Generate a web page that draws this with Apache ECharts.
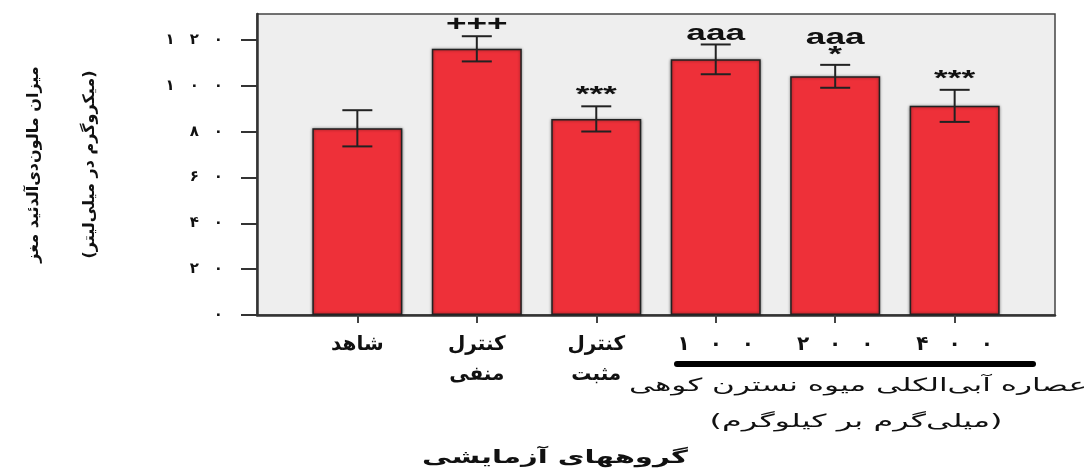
<!DOCTYPE html>
<html><head><meta charset="utf-8">
<script src="https://cdn.jsdelivr.net/npm/echarts@6/dist/echarts.min.js"></script>
<style>html,body{margin:0;padding:0;background:#fff}#c{width:1090px;height:471px}</style>
</head><body><div id="c"></div>
<script>
// ---- data ----
const categories = ['شاهد', 'کنترل\nمنفی', 'کنترل\nمثبت', '۱\u2003۰\u2003۰', '۲\u2003۰\u2003۰', '۴\u2003۰\u2003۰'];
const positions = [1, 2, 3, 4, 5, 6];
const means = [81.5, 116.2, 85.6, 111.6, 104.2, 91.3];
const errors = [7.9, 5.5, 5.5, 6.5, 5.0, 7.0];
const marksUpper = ['', '+++', '***', 'aaa', 'aaa', '***'];
const marksLower = ['', '', '', '', '*', ''];
const yTicks = [0, 20, 40, 60, 80, 100, 120];
const yTickLabels = ['۰', '۲\u2003۰', '۴\u2003۰', '۶\u2003۰', '۸\u2003۰', '۱\u2003۰\u2003۰', '۱\u2003۲\u2003۰'];
const yTitle = 'میزان مالون‌دی‌آلدئید مغز\n(میکروگرم در میلی‌لیتر)';
const groupTitle = 'عصاره آبی‌الکلی میوه نسترن کوهی';
const unitTitle = '(میلی‌گرم بر کیلوگرم)';
const xTitle = 'گروههای آزمایشی';

const FONT = 'DejaVu Sans';
const cvs = document.createElement('canvas').getContext('2d');
function fitScale(text, font, target) { cvs.font = font; return target / cvs.measureText(text).width; }

const chart = echarts.init(document.getElementById('c'));
const f1 = 'normal 18px "' + FONT + '"';
const f3 = 'bold 18px "' + FONT + '"';
chart.setOption({
  animation: false,
  grid: { left: 257, right: 35, top: 14, bottom: 156, show: true, backgroundColor: '#eeeeee', borderColor: '#444', borderWidth: 1.5, containLabel: false, outerBoundsMode: 'none' },
  xAxis: {
    type: 'value', min: 0.16, max: 6.84,
    splitLine: { show: false },
    axisLine: { show: true, onZero: false, lineStyle: { color: '#333', width: 2.5 } },
    axisTick: { show: true, customValues: positions, length: 8, lineStyle: { color: '#444', width: 2 } },
    axisLabel: { customValues: positions, formatter: v => categories[Math.round(v) - 1], margin: 15,
      fontFamily: FONT, fontWeight: 'bold', fontSize: 20, color: '#111', lineHeight: 30 }
  },
  yAxis: {
    type: 'value', min: 0, max: 131.4,
    splitLine: { show: false },
    axisLine: { show: true, lineStyle: { color: '#333', width: 2.5 } },
    axisTick: { show: true, customValues: yTicks, length: 16, lineStyle: { color: '#333', width: 2 } },
    axisLabel: { customValues: yTicks, formatter: v => yTickLabels[yTicks.indexOf(Math.round(v))], margin: 34,
      fontFamily: FONT, fontWeight: 'bold', fontSize: 15, color: '#111' },
    name: yTitle, nameLocation: 'middle', nameRotate: 90, nameGap: 139,
    nameTextStyle: { fontFamily: FONT, fontWeight: 'bold', fontSize: 16, color: '#111', lineHeight: 56 }
  },
  series: [
    { type: 'bar', data: positions.map((p, i) => [p, means[i]]), barWidth: 90,
      itemStyle: { color: '#ee3039', borderColor: '#222', borderWidth: 1.5, shadowColor: 'rgba(0,0,0,0.45)', shadowBlur: 3 } },
    { type: 'custom', z: 10, data: positions.map((p, i) => [p, means[i], errors[i]]),
      renderItem: function (params, api) {
        const i = params.dataIndex;
        const x = api.value(0), m = api.value(1), e = api.value(2);
        const top = api.coord([x, m + e]), bot = api.coord([x, m - e]);
        const cap = 15, st = { stroke: '#222', lineWidth: 2 };
        const ch = [
          { type: 'line', shape: { x1: top[0], y1: top[1], x2: bot[0], y2: bot[1] }, style: st },
          { type: 'line', shape: { x1: top[0] - cap, y1: top[1], x2: top[0] + cap, y2: top[1] }, style: st },
          { type: 'line', shape: { x1: bot[0] - cap, y1: bot[1], x2: bot[0] + cap, y2: bot[1] }, style: st }
        ];
        const tf = 'bold 22px "Liberation Sans"';
        if (marksLower[i]) {
          ch.push({ type: 'text', x: top[0], y: top[1] - 10, scaleX: 1.6, style: { text: marksLower[i], x: 0, y: 0, align: 'center', verticalAlign: 'middle', font: tf, fill: '#111' } });
        }
        if (marksUpper[i]) {
          const off = marksLower[i] ? 27 : 11;
          ch.push({ type: 'text', x: top[0], y: top[1] - off, scaleX: 1.6, style: { text: marksUpper[i], x: 0, y: 0, align: 'center', verticalAlign: 'middle', font: tf, fill: '#111' } });
        }
        return { type: 'group', children: ch };
      }
    }
  ],
  graphic: [
    { type: 'line', shape: { x1: 677, y1: 364, x2: 1033, y2: 364 }, style: { stroke: '#000', lineWidth: 6, lineCap: 'round' } },
    { type: 'text', x: 858, y: 386, scaleX: fitScale(groupTitle, f1, 458), style: { text: groupTitle, x: 0, y: 0, align: 'center', verticalAlign: 'middle', font: f1, fill: '#111' } },
    { type: 'text', x: 856, y: 422, scaleX: fitScale(unitTitle, f1, 293), style: { text: unitTitle, x: 0, y: 0, align: 'center', verticalAlign: 'middle', font: f1, fill: '#111' } },
    { type: 'text', x: 555, y: 458, scaleX: fitScale(xTitle, f3, 266), style: { text: xTitle, x: 0, y: 0, align: 'center', verticalAlign: 'middle', font: f3, fill: '#111' } }
  ]
});
</script></body></html>
